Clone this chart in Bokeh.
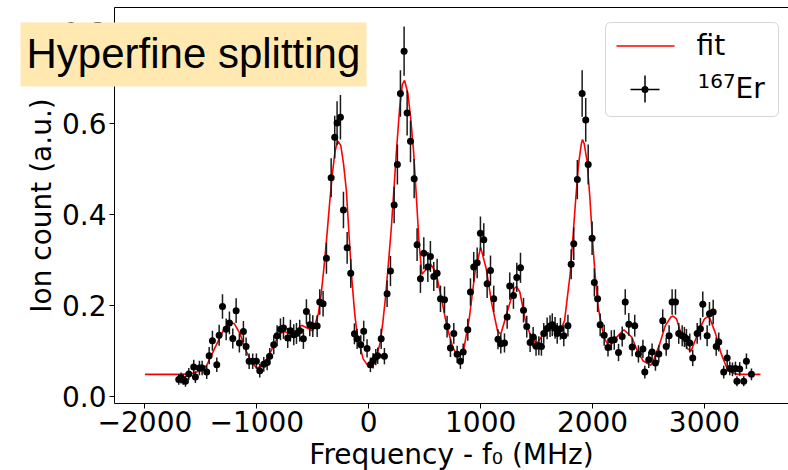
from bokeh.plotting import figure
from bokeh.models import (ColumnDataSource, FixedTicker, CustomJSTickFormatter, LinearAxis,
                          BoxAnnotation, Label, Arrow, Range1d)
from bokeh.embed import file_html
from bokeh.resources import INLINE

# ---------------- data ----------------
freq = [-1698, -1677, -1659, -1638, -1608, -1564, -1549, -1513, -1489, -1448, -1426, -1397, -1358,
        -1337, -1307, -1274, -1245, -1215, -1185, -1156, -1120, -1096, -1069, -1037, -1004, -974,
        -938, -908, -885, -849, -819, -789, -762, -724, -700, -670, -646, -617, -584, -557, -527,
        -500, -461, -438, -408, -378, -336, -304, -283, -253, -226, -193, -161, -128, -104, -71,
        -45, -15, 15, 39, 63, 80, 111, 140, 164, 194, 227, 256, 283, 316, 343, 373, 406, 432, 462,
        492, 528, 551, 581, 611, 641, 677, 700, 730, 760, 790, 819, 844, 885, 909, 938, 969, 998,
        1028, 1058, 1088, 1117, 1155, 1180, 1213, 1237, 1260, 1293, 1323, 1356, 1383, 1412, 1442,
        1469, 1495, 1520, 1543, 1564, 1594, 1620, 1640, 1665, 1684, 1713, 1743, 1780, 1809, 1832,
        1864, 1907, 1939, 1961, 1996, 2016, 2045, 2068, 2104, 2138, 2168, 2194, 2232, 2265, 2292,
        2324, 2354, 2377, 2410, 2450, 2467, 2502, 2532, 2562, 2592, 2627, 2658, 2684, 2711, 2741,
        2770, 2801, 2821, 2839, 2869, 2895, 2935, 2964, 2985, 3024, 3045, 3078, 3105, 3128, 3172,
        3203, 3226, 3250, 3277, 3290, 3315, 3351, 3375, 3420]
counts = [0.037, 0.040, 0.037, 0.033, 0.049, 0.064, 0.042, 0.062, 0.062, 0.053, 0.089, 0.122, 0.069,
          0.134, 0.197, 0.147, 0.161, 0.127, 0.188, 0.117, 0.142, 0.109, 0.077, 0.077, 0.077, 0.056,
          0.070, 0.074, 0.088, 0.113, 0.133, 0.147, 0.150, 0.128, 0.144, 0.135, 0.138, 0.144, 0.126, 0.186, 0.157,
          0.154, 0.154, 0.207, 0.203, 0.303, 0.480, 0.569, 0.600, 0.613, 0.409, 0.326, 0.270, 0.137, 0.126, 0.113,
          0.143, 0.105, 0.069, 0.078, 0.086, 0.089, 0.126, 0.088, 0.225, 0.275, 0.420, 0.509, 0.665, 0.758, 0.622, 0.560, 0.478, 0.333, 0.258,
          0.314, 0.284, 0.307, 0.263, 0.270, 0.214, 0.212, 0.153, 0.106, 0.138, 0.092, 0.077, 0.097, 0.146, 0.229, 0.284, 0.293, 0.358,
          0.344, 0.247, 0.276, 0.214, 0.125, 0.115, 0.117, 0.174, 0.242, 0.221, 0.261, 0.282, 0.189, 0.153, 0.118,
          0.130, 0.110, 0.111, 0.109, 0.138, 0.149, 0.154, 0.157, 0.150, 0.138, 0.148, 0.133, 0.155, 0.290, 0.335,
          0.476, 0.665, 0.607, 0.509, 0.347, 0.250, 0.214, 0.157, 0.134, 0.107, 0.123, 0.124, 0.096, 0.131, 0.207,
          0.158, 0.108, 0.155, 0.093, 0.104, 0.053, 0.080, 0.097, 0.073, 0.093, 0.166, 0.109, 0.133, 0.207, 0.207,
          0.138, 0.133, 0.130, 0.126, 0.117, 0.084, 0.138, 0.148, 0.202, 0.133, 0.181, 0.185, 0.109, 0.119, 0.053,
          0.084, 0.061, 0.059, 0.061, 0.033, 0.060, 0.033, 0.077, 0.048]
errors = [0.012, 0.012, 0.012, 0.012, 0.013, 0.016, 0.013, 0.016, 0.016, 0.015, 0.019, 0.022, 0.016,
          0.023, 0.027, 0.024, 0.025, 0.022, 0.027, 0.021, 0.023, 0.020, 0.017, 0.017, 0.017, 0.015,
          0.016, 0.017, 0.018, 0.021, 0.023, 0.024, 0.024, 0.022, 0.024, 0.023, 0.023, 0.024, 0.022, 0.027, 0.025,
          0.024, 0.024, 0.028, 0.028, 0.034, 0.043, 0.047, 0.048, 0.049, 0.040, 0.035, 0.032, 0.023, 0.022, 0.021,
          0.023, 0.020, 0.016, 0.017, 0.018, 0.018, 0.022, 0.018, 0.029, 0.033, 0.040, 0.044, 0.051, 0.054, 0.049, 0.046, 0.043, 0.036, 0.031,
          0.035, 0.033, 0.034, 0.032, 0.032, 0.029, 0.029, 0.024, 0.020, 0.023, 0.019, 0.017, 0.019, 0.024, 0.030, 0.033, 0.034, 0.037,
          0.036, 0.031, 0.033, 0.029, 0.022, 0.021, 0.021, 0.026, 0.030, 0.029, 0.032, 0.033, 0.027, 0.024, 0.021,
          0.022, 0.021, 0.021, 0.020, 0.023, 0.024, 0.024, 0.025, 0.024, 0.023, 0.024, 0.023, 0.024, 0.033, 0.036,
          0.043, 0.051, 0.048, 0.044, 0.037, 0.031, 0.029, 0.025, 0.023, 0.020, 0.022, 0.022, 0.019, 0.022, 0.028,
          0.025, 0.020, 0.024, 0.019, 0.020, 0.014, 0.018, 0.019, 0.017, 0.019, 0.025, 0.020, 0.023, 0.028, 0.028,
          0.023, 0.023, 0.022, 0.022, 0.021, 0.018, 0.023, 0.024, 0.028, 0.023, 0.026, 0.027, 0.020, 0.021, 0.014,
          0.018, 0.015, 0.015, 0.015, 0.011, 0.015, 0.011, 0.017, 0.013]

fit_freq = [-2000, -1700, -1600, -1500, -1450, -1400, -1350, -1300, -1250, -1200, -1150, -1100, -1050,
            -1000, -950, -900, -850, -800, -750, -700, -650, -600, -550, -500, -450, -425, -400, -375,
            -350, -325, -300, -275, -250, -225, -200, -175, -150, -125, -100, -50, 0, 50, 100, 125,
            150, 175, 200, 225, 250, 275, 300, 320, 350, 375, 400, 425, 450, 475, 500, 550, 600, 650,
            700, 750, 800, 850, 900, 950, 1000, 1050, 1100, 1150, 1180, 1250, 1300, 1320, 1350, 1400,
            1450, 1500, 1550, 1600, 1650, 1700, 1750, 1800, 1825, 1850, 1875, 1900, 1910, 1925, 1950,
            1975, 2000, 2025, 2050, 2100, 2150, 2200, 2280, 2350, 2400, 2450, 2520, 2550, 2600, 2650,
            2700, 2720, 2750, 2800, 2850, 2880, 2950, 3000, 3030, 3050, 3100, 3150, 3200, 3250, 3300, 3500]
fit_counts = [0.048, 0.048, 0.049, 0.056, 0.067, 0.093, 0.119, 0.144, 0.163, 0.159, 0.137, 0.102, 0.075,
              0.062, 0.067, 0.086, 0.111, 0.137, 0.142, 0.136, 0.142, 0.156, 0.150, 0.143, 0.181, 0.225, 0.283, 0.350,
              0.423, 0.489, 0.540, 0.560, 0.551, 0.510, 0.452, 0.350, 0.254, 0.180, 0.130, 0.082, 0.064, 0.071, 0.115, 0.160,
              0.218, 0.290, 0.364, 0.455, 0.547, 0.630, 0.685, 0.694, 0.665, 0.610, 0.540, 0.440, 0.335, 0.268, 0.275, 0.291, 0.273, 0.214,
              0.152, 0.108, 0.086, 0.104, 0.174, 0.273, 0.327, 0.280, 0.203, 0.144, 0.136, 0.196, 0.236, 0.241, 0.229, 0.166,
              0.130, 0.115, 0.133, 0.148, 0.144, 0.137, 0.166, 0.269, 0.350, 0.435, 0.510, 0.555, 0.564, 0.555, 0.518,
              0.440, 0.342, 0.260, 0.196, 0.130, 0.108, 0.126, 0.146, 0.130, 0.100, 0.078, 0.068, 0.082, 0.115, 0.155,
              0.174, 0.176, 0.170, 0.130, 0.104, 0.099, 0.144, 0.170, 0.175, 0.170, 0.137, 0.093, 0.062, 0.051, 0.048, 0.048]

x_ticks = [-2000, -1000, 0, 1000, 2000, 3000]
y_ticks = [0.0, 0.2, 0.4, 0.6, 0.8]

title_text = "Hyperfine splitting"
x_label = "Frequency - f\u2080 (MHz)"
y_label = "Ion count (a.u.)"
legend_fit = "fit"
legend_mass = "167"
legend_symbol = "Er"

# ---------------- layout ----------------
W, H = 788, 470
FONT = "DejaVu Sans"
# axes box (data limits of the spines)
X_LO, X_HI = -2272, 3751
Y_LO, Y_HI = -0.016, 0.854
# the frame covers the whole canvas; spines sit at canvas x=114, y=7 (top) and y=403 (bottom)
PX_X = (W - 114) / (X_HI - X_LO)
PX_Y = (403 - 7) / (Y_HI - Y_LO)
x_range = Range1d(X_LO - 114 / PX_X, X_HI + (W - 788) / PX_X)
y_range = Range1d(Y_LO - (H - 403) / PX_Y, Y_HI + 7 / PX_Y)


def sx(cx):
    return cx


def sy(cy):
    return H - cy


p = figure(width=W, height=H, output_backend="svg", toolbar_location=None,
           x_range=x_range, y_range=y_range,
           min_border_left=0, min_border_right=0, min_border_top=0, min_border_bottom=0)
p.background_fill_color = "white"
p.border_fill_color = "white"
p.outline_line_color = None
p.xgrid.visible = False
p.ygrid.visible = False

xax = p.xaxis[0]
yax = p.yaxis[0]
xax.fixed_location = Y_LO
yax.fixed_location = X_LO
xax.bounds = (X_LO, X_HI)
yax.bounds = (Y_LO, Y_HI)

for ax in (xax, yax):
    ax.axis_line_color = "black"
    ax.axis_line_width = 1
    ax.major_tick_line_color = "black"
    ax.major_tick_out = 5
    ax.major_tick_in = 0
    ax.minor_tick_line_color = None
    ax.major_label_text_font = FONT
    ax.major_label_text_font_size = "28px"
    ax.major_label_text_color = "black"
    ax.axis_label_text_font = FONT
    ax.axis_label_text_font_size = "28px"
    ax.axis_label_text_font_style = "normal"
    ax.axis_label_text_color = "black"

xax.ticker = FixedTicker(ticks=x_ticks)
yax.ticker = FixedTicker(ticks=y_ticks)
xax.formatter = CustomJSTickFormatter(
    code="return (tick < 0 ? '\u2212' : '') + Math.abs(tick).toFixed(0);")
yax.formatter = CustomJSTickFormatter(code="return tick.toFixed(1);")
xax.axis_label = x_label
yax.axis_label = y_label
xax.major_label_standoff = 2
xax.axis_label_standoff = 3
yax.major_label_standoff = 3
yax.axis_label_standoff = 1

# top spine
top = LinearAxis(ticker=FixedTicker(ticks=[]), axis_line_color="black", axis_line_width=1,
                 major_tick_line_color=None, minor_tick_line_color=None,
                 major_label_text_font_size="0px", major_label_standoff=0,
                 major_tick_out=0, major_tick_in=0, fixed_location=Y_HI, bounds=(X_LO, X_HI))
p.add_layout(top, "above")

# ---------------- glyphs ----------------
lower = [c - e for c, e in zip(counts, errors)]
upper = [c + e for c, e in zip(counts, errors)]
src = ColumnDataSource(dict(x=freq, y=counts, lo=lower, hi=upper))
fit_src = ColumnDataSource(dict(x=fit_freq, y=fit_counts))

p.line("x", "y", source=fit_src, line_color="#ff0000", line_width=1.6)
p.segment(x0="x", y0="lo", x1="x", y1="hi", source=src, line_color="#1a1a1a", line_width=1.5)
p.scatter("x", "y", source=src, size=7, fill_color="black", line_color="black", line_width=0)

# ---------------- title box ----------------
p.add_layout(BoxAnnotation(left=sx(20), right=sx(366), top=sy(22), bottom=sy(86),
                           left_units="screen", right_units="screen",
                           top_units="screen", bottom_units="screen",
                           fill_color="#ffe9b0", fill_alpha=1.0, line_color=None))
p.add_layout(Label(x=sx(26), y=sy(53), x_units="screen", y_units="screen", text=title_text,
                   text_font="Liberation Sans", text_font_size="42px", text_color="black",
                   text_baseline="alphabetic", text_align="left"))

# ---------------- legend (drawn by hand) ----------------
p.add_layout(BoxAnnotation(left=sx(605), right=sx(778), top=sy(22), bottom=sy(116),
                           left_units="screen", right_units="screen",
                           top_units="screen", bottom_units="screen",
                           fill_color="white", fill_alpha=0.8, line_color="#cccccc",
                           line_alpha=0.8, line_width=1, border_radius=5))
p.add_layout(Arrow(start=None, end=None, x_start=sx(616), y_start=sy(45.5), x_end=sx(674), y_end=sy(45.5),
                   start_units="screen", end_units="screen", line_color="#ff0000", line_width=1.6))
p.add_layout(Arrow(start=None, end=None, x_start=sx(630), y_start=sy(89), x_end=sx(659), y_end=sy(89),
                   start_units="screen", end_units="screen", line_color="black", line_width=1.5))
p.add_layout(Arrow(start=None, end=None, x_start=sx(644.5), y_start=sy(75), x_end=sx(644.5), y_end=sy(102),
                   start_units="screen", end_units="screen", line_color="black", line_width=1.5))
p.add_layout(BoxAnnotation(left=sx(641), right=sx(648), top=sy(85.5), bottom=sy(92.5),
                           left_units="screen", right_units="screen",
                           top_units="screen", bottom_units="screen",
                           fill_color="black", fill_alpha=1.0, line_color=None, border_radius=4))
p.add_layout(Label(x=sx(696), y=sy(45), x_units="screen", y_units="screen", text=legend_fit,
                   text_font=FONT, text_font_size="28px", text_color="black",
                   text_baseline="alphabetic"))
p.add_layout(Label(x=sx(697), y=sy(80), x_units="screen", y_units="screen", text=legend_mass,
                   text_font=FONT, text_font_size="20px", text_color="black",
                   text_baseline="alphabetic"))
p.add_layout(Label(x=sx(735), y=sy(88), x_units="screen", y_units="screen", text=legend_symbol,
                   text_font=FONT, text_font_size="28px", text_color="black",
                   text_baseline="alphabetic"))

open("out.html", "w").write(file_html(p, INLINE))
